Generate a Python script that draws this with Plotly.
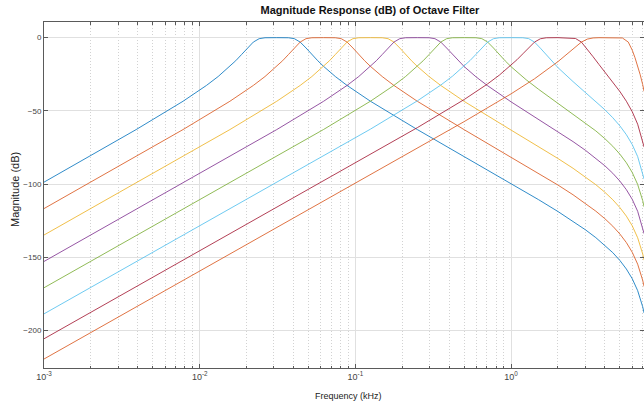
import plotly.graph_objects as go

# ---- data (frequency in kHz, magnitude in dB) ----
BAND1_F = [0.001, 0.003906, 0.007813, 0.01105, 0.01314, 0.01563, 0.01704, 0.01858, 0.02026, 0.0221,
           0.0241, 0.02628, 0.03125, 0.03716, 0.04053, 0.04419, 0.04819, 0.05256, 0.05731, 0.0625,
           0.07433, 0.08839, 0.125, 0.25, 0.5, 1, 1.5, 2, 2.5, 3, 3.5, 4, 4.5, 5, 5.5, 6, 6.5, 7, 7.15]
BAND1_DB = [-98.72, -62.81, -43.47, -32.65, -26.55, -19.64, -15.76, -11.52, -7.05, -3.01,
            -0.68, -0.06, 0, -0.06, -0.68, -3.01, -7.05, -11.52, -15.76, -19.64,
            -26.55, -32.65, -43.47, -62.81, -81.26, -99.65, -110.67, -118.79, -125.43, -131.25,
            -136.61, -141.75, -146.90, -152.26, -158.08, -164.72, -172.84, -183.83, -188.16]

BAND2_F = [0.001, 0.007813, 0.01563, 0.0221, 0.02628, 0.03125, 0.03408, 0.03716, 0.04053, 0.04419,
           0.04819, 0.05256, 0.0625, 0.07433, 0.08105, 0.08839, 0.09639, 0.1051, 0.1146, 0.125,
           0.1487, 0.1768, 0.25, 0.5, 1, 1.5, 2, 2.5, 3, 3.5, 4, 4.5, 5, 5.5, 6, 6.5, 7, 7.15]
BAND2_DB = [-116.78, -62.81, -43.47, -32.65, -26.55, -19.64, -15.76, -11.52, -7.05, -3.01,
            -0.68, -0.06, 0, -0.06, -0.68, -3.01, -7.05, -11.52, -15.76, -19.64,
            -26.55, -32.65, -43.49, -62.89, -81.52, -92.57, -100.71, -107.35, -113.17, -118.53,
            -123.67, -128.82, -134.18, -140.0, -146.64, -154.76, -165.75, -170.08]

BAND3_F = [0.001, 0.01563, 0.03125, 0.04419, 0.05256, 0.0625, 0.06815, 0.07433, 0.08105, 0.08839,
           0.09639, 0.1051, 0.125, 0.1487, 0.1621, 0.1768, 0.1928, 0.2102, 0.2293, 0.25,
           0.2973, 0.3536, 0.5, 1, 1.5, 2, 2.5, 3, 3.5, 4, 4.5, 5, 5.5, 6, 6.5, 7, 7.15]
BAND3_DB = [-134.85, -62.81, -43.47, -32.65, -26.55, -19.64, -15.76, -11.52, -7.05, -3.01,
            -0.68, -0.06, 0, -0.06, -0.68, -3.01, -7.05, -11.52, -15.77, -19.65,
            -26.57, -32.67, -43.57, -63.16, -74.39, -82.58, -89.25, -95.08, -100.45, -105.60,
            -110.75, -116.12, -121.94, -128.58, -136.70, -147.69, -152.02]

BAND4_F = [0.001, 0.03125, 0.0625, 0.08839, 0.1051, 0.125, 0.1363, 0.1487, 0.1621, 0.1768,
           0.1928, 0.2102, 0.25, 0.2973, 0.3242, 0.3536, 0.3855, 0.4204, 0.4585, 0.5,
           0.5946, 0.7071, 1, 1.5, 2, 2.5, 3, 3.5, 4, 4.5, 5, 5.5, 6, 6.5, 7, 7.15]
BAND4_DB = [-152.91, -62.81, -43.47, -32.65, -26.55, -19.64, -15.76, -11.52, -7.05, -3.01,
            -0.68, -0.06, 0, -0.06, -0.68, -3.02, -7.07, -11.55, -15.82, -19.78,
            -26.72, -32.86, -43.86, -55.80, -64.24, -71.03, -76.93, -82.33, -87.51, -92.67,
            -98.03, -103.86, -110.50, -118.63, -129.62, -133.95]

BAND5_F = [0.001, 0.0625, 0.125, 0.1768, 0.2102, 0.25, 0.2726, 0.2973, 0.3242, 0.3536,
           0.3855, 0.4204, 0.5, 0.5946, 0.6484, 0.7071, 0.7711, 0.8409, 0.917, 1,
           1.25, 1.5, 2, 2.5, 3, 3.5, 4, 4.5, 5, 5.5, 6, 6.5, 7, 7.15]
BAND5_DB = [-170.88, -62.72, -43.40, -32.59, -26.51, -19.63, -15.76, -11.55, -7.11, -3.01,
            -0.71, -0.06, 0, -0.06, -0.67, -3.01, -7.09, -11.61, -15.89, -19.85,
            -28.76, -35.24, -44.74, -52.00, -58.15, -63.70, -68.97, -74.21, -79.62, -85.47,
            -92.15, -100.29, -111.29, -115.63]

BAND6_F = [0.001, 0.125, 0.25, 0.3536, 0.4204, 0.5, 0.5453, 0.5946, 0.6484, 0.7071,
           0.7711, 0.8409, 1, 1.1892, 1.2968, 1.4142, 1.5422, 1.6818, 1.834, 2,
           2.5, 3, 3.5, 4, 4.5, 5, 5.5, 6, 6.5, 7, 7.15]
BAND6_DB = [-188.70, -62.49, -43.17, -32.37, -26.32, -19.45, -15.60, -11.41, -7.00, -3.01,
            -0.70, -0.07, 0, -0.06, -0.65, -3.01, -7.19, -11.87, -16.32, -20.46,
            -30.03, -37.32, -43.53, -49.21, -54.71, -60.30, -66.29, -73.05, -81.25, -92.30, -96.64]

BAND7_F = [0.001, 0.25, 0.5, 0.7071, 0.8409, 1, 1.0905, 1.1892, 1.2968, 1.4142,
           1.5422, 1.6818, 2, 2.3784, 2.5937, 2.8284, 3.0844, 3.3636, 3.668, 4,
           4.5, 5, 5.5, 6, 6.5, 7, 7.15]
BAND7_DB = [-205.74, -61.48, -42.25, -31.57, -25.58, -18.86, -15.11, -11.06, -6.82, -3.01,
            -0.75, -0.08, 0, -0.04, -0.57, -3.01, -7.70, -13.06, -18.32, -23.41,
            -30.31, -36.82, -43.43, -50.62, -59.12, -70.36, -74.74]

BAND8_F = [0.001, 0.5, 1, 1.4142, 2, 2.3784, 2.5937, 2.8284, 3.0844, 3.3636,
           3.668, 4, 4.362, 4.7568, 5.1874, 5.6569, 6, 6.25, 6.5, 6.75, 7, 7.15]
BAND8_DB = [-219.56, -57.33, -38.38, -28.10, -16.37, -9.58, -6.09, -3.01, -1.00, -0.19,
            -0.02, 0, 0, 0, -0.22, -3.01, -8.59, -13.70, -19.23, -25.38, -32.04, -36.75]

BANDS = [(BAND1_F, BAND1_DB), (BAND2_F, BAND2_DB), (BAND3_F, BAND3_DB), (BAND4_F, BAND4_DB),
         (BAND5_F, BAND5_DB), (BAND6_F, BAND6_DB), (BAND7_F, BAND7_DB), (BAND8_F, BAND8_DB)]

COLORS = ["#0072BD", "#D95319", "#EDB120", "#7E2F8E", "#77AC30", "#4DBEEE", "#A2142F", "#D95319"]

X_TICKS = [0.001, 0.01, 0.1, 1]
X_TICKTEXT = ["10<sup>-3</sup>", "10<sup>-2</sup>", "10<sup>-1</sup>", "10<sup>0</sup>"]
X_MINOR = [m * d for d in (0.001, 0.01, 0.1, 1) for m in range(2, 10)]
Y_TICKS = [-200, -150, -100, -50, 0]

TITLE = "Magnitude Response (dB) of Octave Filter"
XLABEL = "Frequency (kHz)"
YLABEL = "Magnitude (dB)"

FONT = "Liberation Sans, Arial, sans-serif"
AXCOL = "#5a5a5a"

fig = go.Figure()
for (f, db), c in zip(BANDS, COLORS):
    fig.add_trace(go.Scatter(x=f, y=db, mode="lines", line=dict(color=c, width=0.9),
                             opacity=0.9, showlegend=False, hoverinfo="skip"))

fig.update_layout(
    width=644, height=406,
    margin=dict(l=44, r=0, t=22, b=38),
    paper_bgcolor="white", plot_bgcolor="white",
    font=dict(family=FONT, size=8, color="#333333"),
    title=dict(text="<b>" + TITLE + "</b>", x=370 / 644, xref="container", xanchor="center",
               y=1 - 10 / 406, yref="container", yanchor="middle",
               font=dict(family=FONT, size=11, color="#111111")),
    xaxis=dict(type="log", range=[-3, 0.8536],
               tickmode="array", tickvals=X_TICKS, ticktext=X_TICKTEXT,
               ticks="inside", ticklen=4, tickcolor=AXCOL, tickwidth=1,
               showline=True, linecolor=AXCOL, linewidth=1, mirror="ticks",
               showgrid=True, gridcolor="#e0e0e0", gridwidth=1,
               zeroline=False,
               tickfont=dict(family=FONT, size=9, color="#444444"),
               minor=dict(tickmode="array", tickvals=X_MINOR, ticks="inside", ticklen=2.5,
                          tickcolor=AXCOL, showgrid=True, gridcolor="#d2d2d2",
                          griddash="1px,2px", gridwidth=1)),
    yaxis=dict(range=[-225.7, 10.7],
               tickmode="array", tickvals=Y_TICKS,
               ticks="inside", ticklen=4, tickcolor=AXCOL, tickwidth=1,
               showline=True, linecolor=AXCOL, linewidth=1, mirror="ticks",
               showgrid=True, gridcolor="#e0e0e0", gridwidth=1,
               zeroline=False,
               tickfont=dict(family=FONT, size=8, color="#444444")),
    annotations=[
        dict(text=XLABEL, xref="paper", yref="paper", x=(348 - 44) / 600, y=-(396 - 368) / 346,
             xanchor="center", yanchor="middle", showarrow=False,
             font=dict(family=FONT, size=9, color="#222222")),
        dict(text=YLABEL, xref="paper", yref="paper", x=(15 - 44) / 600, y=1 - (190 - 22) / 346,
             xanchor="center", yanchor="middle", textangle=-90, showarrow=False,
             font=dict(family=FONT, size=11, color="#222222")),
    ],
)

fig.write_html("out.html")
